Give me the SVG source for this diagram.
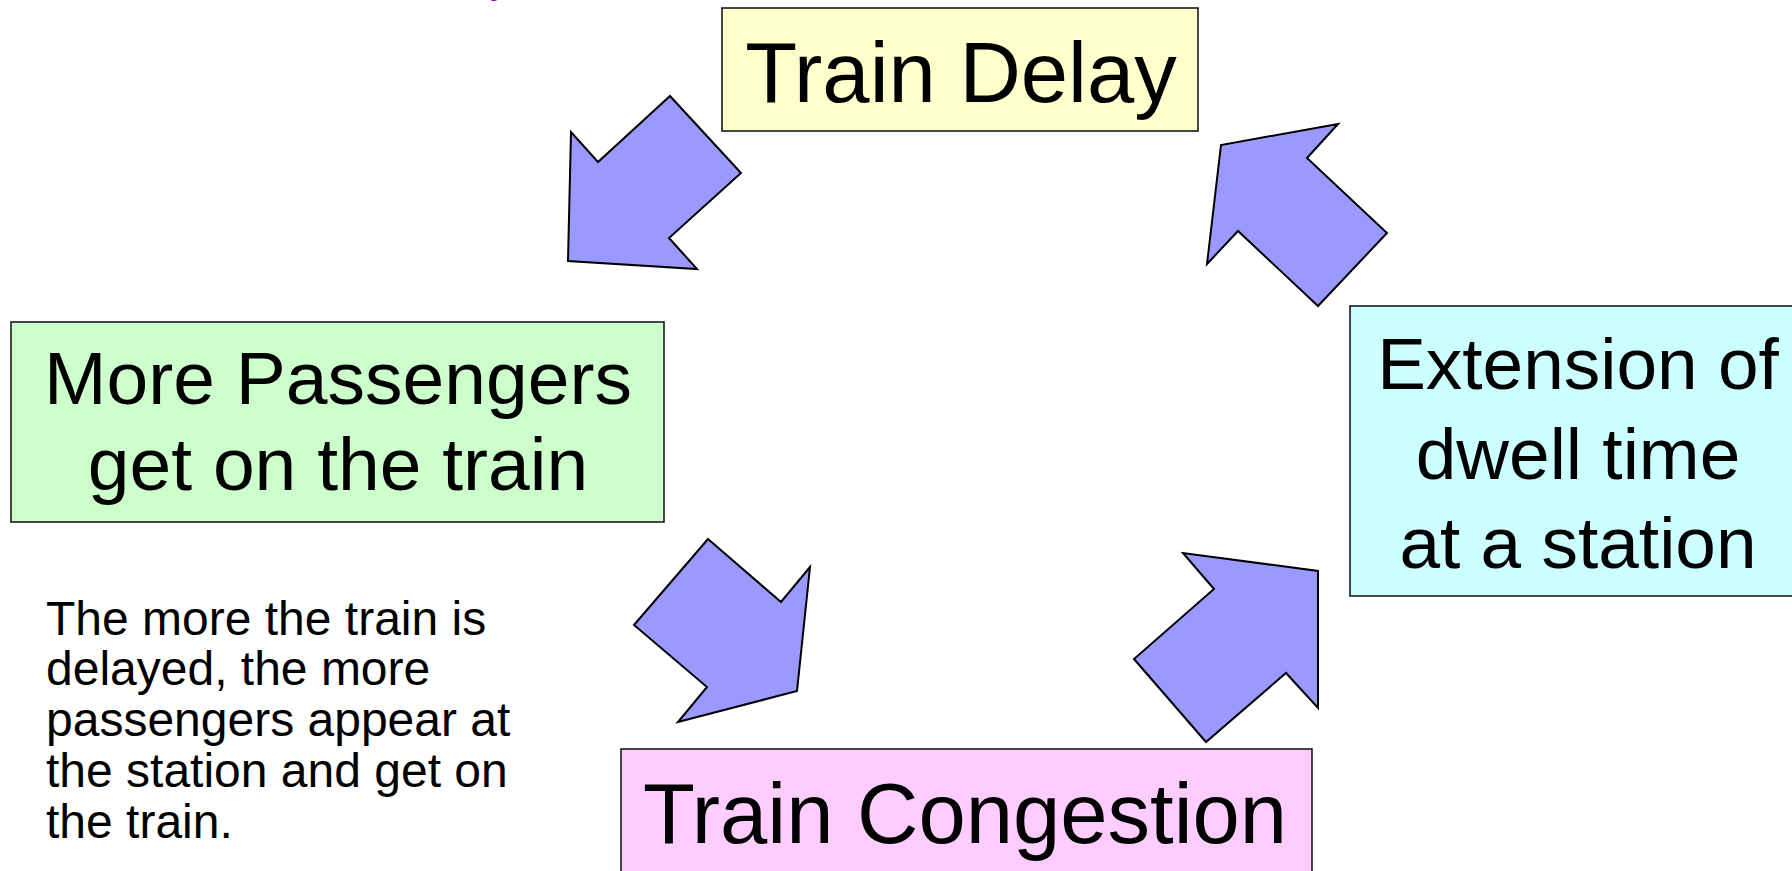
<svg xmlns="http://www.w3.org/2000/svg" width="1792" height="871" viewBox="0 0 1792 871">
  <style>
    .box { stroke: #1a1a1a; stroke-width: 1.6; }
    .big { font-family: "Liberation Sans", Arial, sans-serif; fill: #000; text-anchor: middle; }
    .note { font-family: "Liberation Sans", Arial, sans-serif; fill: #000; font-size: 48px; }
    .arrow { fill: #9999FF; stroke: #000; stroke-width: 2; stroke-linejoin: miter; }
  </style>
  <rect x="0" y="0" width="1792" height="871" fill="#FFFFFF"/>

  <!-- descender of the title line that runs above the frame -->
  <text x="490" y="-7" font-family="'Liberation Sans', Arial, sans-serif" font-size="40" fill="#9900CC">y</text>

  <!-- Train Delay -->
  <g id="train-delay">
    <rect class="box" x="722" y="8" width="476" height="123" fill="#FFFFCC"/>
    <text class="big" x="961" y="102" font-size="85">Train Delay</text>
  </g>

  <!-- More Passengers get on the train -->
  <g id="more-passengers">
    <rect class="box" x="11" y="322" width="653" height="200" fill="#CCFFCC"/>
    <text class="big" x="338" y="404" font-size="75">More Passengers</text>
    <text class="big" x="338" y="490" font-size="75">get on the train</text>
  </g>

  <!-- Extension of dwell time at a station -->
  <g id="dwell-extension">
    <rect class="box" x="1350" y="306" width="460" height="290" fill="#CCFFFF"/>
    <text class="big" x="1578" y="389" font-size="73">Extension of</text>
    <text class="big" x="1578" y="479" font-size="73">dwell time</text>
    <text class="big" x="1578" y="568" font-size="73">at a station</text>
  </g>

  <!-- Train Congestion -->
  <g id="train-congestion">
    <rect class="box" x="621" y="749" width="691" height="140" fill="#FFCCFF"/>
    <text class="big" x="965" y="843" font-size="85">Train Congestion</text>
  </g>

  <!-- explanatory note -->
  <g id="note">
    <text class="note" x="46" y="635">The more the train is</text>
    <text class="note" x="46" y="685">delayed, the more</text>
    <text class="note" x="46" y="736">passengers appear at</text>
    <text class="note" x="46" y="787">the station and get on</text>
    <text class="note" x="46" y="838">the train.</text>
  </g>

  <!-- block arrows forming the cycle -->
  <g id="connectors">
    <polygon class="arrow" points="670,96 741,173 669,238 697,269 568,261 571,132 598,162"/>
    <polygon class="arrow" points="708,539 781,602 810,567 797,691 678,722 707,687 634,625"/>
    <polygon class="arrow" points="1183,553 1214,589 1134,659 1206,742 1286,673 1318,708 1318,571"/>
    <polygon class="arrow" points="1338,124 1307,158 1387,233 1318,306 1238,231 1207,264 1221,145"/>
  </g>
</svg>
